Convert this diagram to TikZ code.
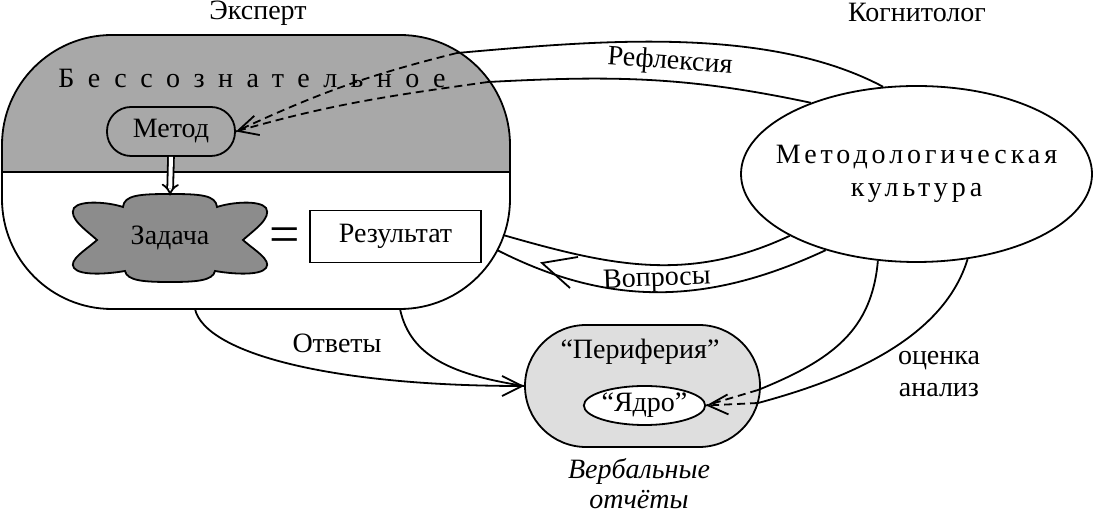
\documentclass[tikz,border=0pt]{standalone}
\usepackage{fontspec}
\setmainfont{Liberation Serif}
\usetikzlibrary{arrows.meta,shapes.geometric}

\definecolor{bessgray}{gray}{0.66}
\definecolor{cloudgray}{gray}{0.55}
\definecolor{pergray}{gray}{0.87}

\newcommand{\spaced}[2]{{\addfontfeatures{LetterSpace=#1}#2}}

\tikzset{
	every node/.style={font=\fontsize{14}{16.5}\selectfont},
	thinline/.style={line width=0.9pt},
	dashline/.style={thinline, dash pattern=on 4pt off 2.5pt},
	barb/.style={-{Straight Barb[length=10pt,width=10pt]}},
}

\begin{document}
\begin{tikzpicture}[x=0.5pt,y=0.5pt]
	\useasboundingbox (0,0) rectangle (1097,513);
	
	% Эксперт
	\node[draw, thinline, rounded corners=55pt, minimum width=254pt, minimum height=137pt,
		path picture={\fill[bessgray, sharp corners] (path picture bounding box.north west) rectangle (path picture bounding box.east);}] (exp) at (256,341) {};
	\draw[thinline] (exp.west) -- (exp.east);
	\node (expl) at (258,500) {Эксперт};
	\node (bess) at (252,435) {\spaced{48}{Бессознательное}};
	\node[draw, thinline, fill=bessgray, rounded corners=12pt, minimum width=64pt, minimum height=24.5pt] (metod) at (171,381.5) {Метод};
	
	\begin{scope}[shift={(170,275)}]
		\draw[thinline, fill=cloudgray] (-73,-2)
		.. controls (-84,8) and (-102,20) .. (-96,30)
		.. controls (-90,38) and (-62,36) .. (-47,31)
		.. controls (-46,43) and (-30,44) .. (0,44)
		.. controls (30,44) and (46,43) .. (47,31)
		.. controls (62,36) and (90,38) .. (96,30)
		.. controls (102,20) and (84,8) .. (73,-2)
		.. controls (84,-12) and (102,-22) .. (96,-30)
		.. controls (90,-38) and (62,-36) .. (45,-33)
		.. controls (43,-43) and (25,-44) .. (0,-44)
		.. controls (-25,-44) and (-43,-43) .. (-45,-33)
		.. controls (-62,-36) and (-90,-38) .. (-96,-30)
		.. controls (-102,-22) and (-84,-12) .. (-73,-2) -- cycle;
	\end{scope}
	\node[minimum width=97pt, minimum height=42pt] (zad) at (170,275) {Задача};
	\draw[thinline, double, double distance=2pt, -Implies] (metod.south) -- (zad.north);
	
	\node (eq) at (285,273) {\fontsize{27}{27}\selectfont =};
	\node[draw, thinline, fill=white, minimum width=85.5pt, minimum height=26pt] (res) at (395.5,276.5) {Результат};
	
	% Когнитолог
	\node[draw, thinline, ellipse, inner sep=0pt, minimum width=175.5pt, minimum height=88pt] (mk) at (916.5,339) {};
	\node[align=center] (mkl) at (mk.center) {\spaced{14}{Методологическая}\\\spaced{14}{культура}};
	\node (kog) at (917,501) {Когнитолог};
	
	% Вербальные отчёты
	\node[draw, thinline, fill=pergray, rounded corners=30.5pt, minimum width=117.5pt, minimum height=61pt] (per) at (642.5,127) {};
	\node (perl) at (640,161) {“Периферия”};
	\node[draw, thinline, fill=white, ellipse, inner sep=0pt, minimum width=59.5pt, minimum height=19.5pt] (yad) at (644.5,107.5) {“Ядро”};
	\node[font=\fontsize{14}{15}\selectfont\itshape, align=center] (verb) at (639,29) {Вербальные\\отчёты};
	
	\node[rotate=-4] (refl) at (670,451) {Рефлексия};
	\node[rotate=2] (vopr) at (657,233) {Вопросы};
	\node (otv) at (337,170) {Ответы};
	\node[align=center, font=\fontsize{14}{16}\selectfont] (ots) at (939,139) {оценка\\анализ};
	
	\coordinate (r1) at (457,460);
	\coordinate (r2) at (488,431);
	\coordinate (v1) at (503,278);
	\coordinate (v2) at (497,263);
	\coordinate (vtip) at (542,250);
	\coordinate (o1) at (195,204);
	\coordinate (o2) at (400,204);
	\coordinate (e1) at (758,123);
	\coordinate (e2) at (758,110);
	
	% Рефлексия
	\draw[thinline] (mk.111) to[out=152, in=5, looseness=0.8] (r1);
	\draw[thinline] (mk.146) to[out=168, in=3] (r2);
	\draw[dashline] (r1) to[out=194, in=25] (metod.east);
	\draw[dashline, barb] (r2) to[out=188, in=16] (metod.east);
	
	% Вопросы
	\draw[thinline] (mk.206) to[out=205, in=-16] (v1);
	\draw[thinline] (mk.220) to[out=205, in=-27] (v2);
	\draw[thinline] (vtip) ++(36,6) -- (vtip) -- ++(28,-25);
	
	% Ответы
	\draw[thinline, barb] (o1) .. controls +(-77:45) and +(180:195) .. (per.west);
	\draw[thinline] (o2) .. controls +(-78:50) and +(171:70) .. (per.west);
	
	% оценка, анализ
	\draw[thinline] (mk.246) .. controls +(-95:70) and +(22:80) .. (e1);
	\draw[thinline] (mk.301) .. controls +(-107:80) and +(15:100) .. (e2);
	\draw[dashline] (e1) -- (yad.east);
	\draw[dashline, barb] (e2) -- (yad.east);
	
\end{tikzpicture}
\end{document}
